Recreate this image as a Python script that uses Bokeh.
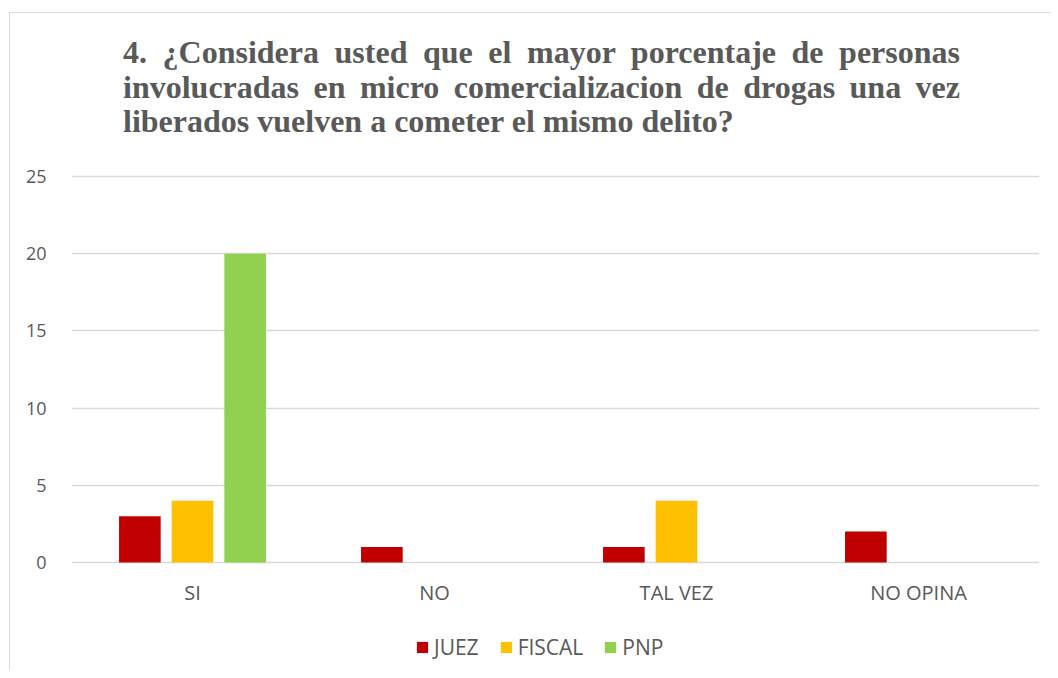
from bokeh.plotting import figure
from bokeh.layouts import column
from bokeh.models import (ColumnDataSource, Range1d, FactorRange, FixedTicker, Div,
                          Legend, LegendItem)
from bokeh.transform import dodge
from bokeh.embed import file_html
from bokeh.resources import INLINE

# ---- data ----
categories = ["SI", "NO", "TAL VEZ", "NO OPINA"]
juez = [3, 1, 1, 2]
fiscal = [4, 0, 4, 0]
pnp = [20, 0, 0, 0]
series_names = ["JUEZ", "FISCAL", "PNP"]
y_ticks = [0, 5, 10, 15, 20, 25]
title_lines = [
    "4. ¿Considera usted que el mayor porcentaje de personas",
    "involucradas en micro comercializacion de drogas una vez",
    "liberados vuelven a cometer el mismo delito?",
]

# ---- layout / style ----
colors = ["#C00000", "#FFC000", "#92D050"]
TXT = "#595959"
GRID = "#D9D9D9"
W = 1040
TITLE_H = 137
H = 520
ML, MR = 61, 11
ZERO_FROM_BOTTOM = 108   # px between value 0 and the bottom of the chart
TOP_FROM_TOP = 26        # px between value 25 and the top of the figure
PLOT_H = 386             # px between value 0 and value 25
px_per_unit = PLOT_H / 25
y_start = -ZERO_FROM_BOTTOM / px_per_unit
y_end = 25 + TOP_FROM_TOP / px_per_unit

# ---- title (justified like the original) ----
title_html = (
    '<div style="font-family:\'Liberation Serif\',\'Times New Roman\',serif;font-weight:bold;'
    'font-size:32px;line-height:34.5px;color:%s;width:837px;margin:0 0 0 113px;padding-top:22px;">'
    % TXT
    + "".join('<div style="text-align:justify;text-align-last:justify;">%s</div>' % t
              for t in title_lines[:-1])
    + '<div style="text-align:left;">%s</div>' % title_lines[-1]
    + "</div>"
)
title = Div(text=title_html, width=W, height=TITLE_H, margin=0)

src = ColumnDataSource(dict(cat=categories, JUEZ=juez, FISCAL=fiscal, PNP=pnp))

p = figure(width=W, height=H, x_range=FactorRange(*categories), y_range=Range1d(y_start, y_end),
           output_backend="svg", toolbar_location=None, margin=0,
           min_border_left=ML, min_border_right=MR, min_border_top=0, min_border_bottom=0)
p.outline_line_color = None
p.background_fill_color = "white"
p.border_fill_color = "white"

step = 0.2175
bw = 0.172
renderers = []
for i, (name, col) in enumerate(zip(series_names, colors)):
    r = p.vbar(x=dodge("cat", (i - 1) * step, range=p.x_range), top=name, width=bw,
               source=src, fill_color=col, line_color=None)
    renderers.append(r)

# axes
p.yaxis.ticker = FixedTicker(ticks=y_ticks)
p.yaxis.axis_line_color = None
p.yaxis.major_tick_line_color = None
p.yaxis.minor_tick_line_color = None
p.yaxis.major_label_standoff = 19
p.yaxis.major_label_text_font = "Open Sans"
p.yaxis.major_label_text_font_size = "18px"
p.yaxis.major_label_text_color = TXT

p.xaxis.fixed_location = 0
p.xaxis.axis_line_color = None
p.xaxis.major_tick_line_color = None
p.xaxis.major_label_standoff = 10
p.xaxis.major_label_text_font = "Open Sans"
p.xaxis.major_label_text_font_size = "20px"
p.xaxis.major_label_text_color = TXT

p.xgrid.grid_line_color = None
p.ygrid.grid_line_color = GRID
p.ygrid.grid_line_width = 1.5

# legend
legend = Legend(items=[LegendItem(label=n, renderers=[r]) for n, r in zip(series_names, renderers)],
                orientation="horizontal", location=(344, 9),
                glyph_width=14, glyph_height=14, label_standoff=5, spacing=20,
                padding=0, margin=0, border_line_color=None, background_fill_alpha=0,
                label_text_font="Open Sans", label_text_font_size="21px",
                label_text_color=TXT, label_height=20)
p.add_layout(legend, "center")

layout = column(title, p, spacing=0)
layout.styles = {"margin-left": "9px", "margin-top": "12px",
                 "border-left": "1px solid #D9D9D9", "border-top": "1px solid #D9D9D9"}

open("out.html", "w").write(file_html(layout, INLINE))
